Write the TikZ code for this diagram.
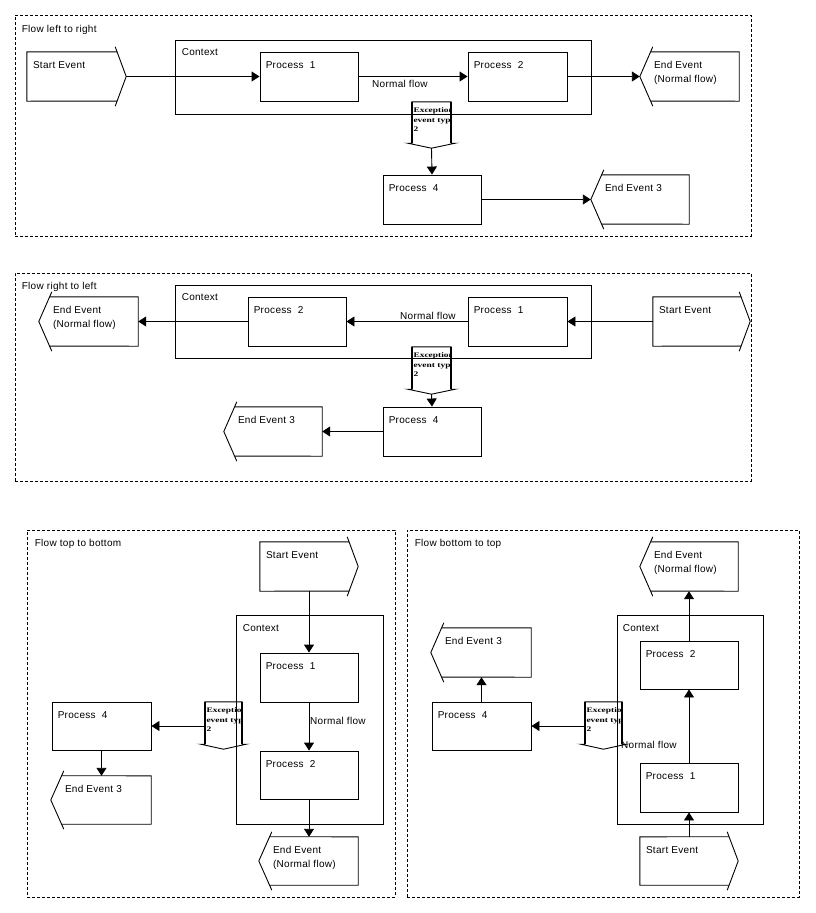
\documentclass[tikz,border=0pt]{standalone}
\usepackage{fontspec}
\usepackage{graphicx}
\setmainfont{Liberation Sans}[LetterSpace=3]
\newfontfamily\excfont{Liberation Serif}
\usetikzlibrary{arrows.meta,calc,fit}

\tikzset{
  ln/.style={line width=0.9pt, draw=black},
  panel/.style={draw=black, line width=0.8pt, dash pattern=on 3pt off 2pt},
  box/.style={draw=black, line width=0.9pt, inner sep=0pt},
  area/.style={inner sep=0pt, draw=none},
  lbl/.style={anchor=north west, inner sep=0pt, font=\fontsize{10}{13.3}\selectfont, align=left},
  flow/.style={line width=0.9pt, -{Triangle[length=8pt,width=10pt]}},
  exctext/.style={anchor=north west, inner sep=0pt, font=\excfont\bfseries\fontsize{7}{9.5}\selectfont, align=left},
}

\newcommand\xsc[1]{\scalebox{1.35}[1]{#1}}

% process / context box: name, x1, y1, x2, y2, text, dx, dy
\newcommand\procbox[8]{%
  \node[box, fit={(#2,#3) (#4,#5)}] (#1) {};
  \node[lbl] (#1lbl) at ($(#1.north west)+(#7,#8)$) {#6};
}

% start event (chevron on the right): name, x1, y1, x2(ear), y2, text
\newcommand\startevt[6]{%
  \node[area, fit={(#2,#3) (#4,#5)}] (#1) {};
  \coordinate (#1et) at ($(#1.north east)+(0,-5)$);
  \coordinate (#1eb) at ($(#1.south east)+(0,5)$);
  \coordinate (#1tip) at ($(#1.east)+(11,0)$);
  \draw[ln] (#1et) -- (#1tip) -- (#1eb);
  \draw[ln] ($(#1et)!0.17!(#1tip)$) -- (#1.north west) -- (#1.south west) -- ($(#1eb)!0.17!(#1tip)$);
  \node[lbl] (#1lbl) at ($(#1.north west)+(6,9.5)$) {#6};
}

% end event (chevron on the left): name, x1(ear), y1, x2, y2, text
\newcommand\finevt[6]{%
  \node[area, fit={(#2,#3) (#4,#5)}] (#1) {};
  \coordinate (#1et) at ($(#1.north west)+(0,-5)$);
  \coordinate (#1eb) at ($(#1.south west)+(0,5)$);
  \coordinate (#1tip) at ($(#1.west)+(-13,0)$);
  \draw[ln] (#1et) -- (#1tip) -- (#1eb);
  \draw[ln] ($(#1et)!0.17!(#1tip)$) -- (#1.north east) -- (#1.south east) -- ($(#1eb)!0.17!(#1tip)$);
  \node[lbl] (#1lbl) at ($(#1.north west)+(1,9.5)$) {#6};
}

% exception event: name, x1, y1, x2, y2
\newcommand\excevt[5]{%
  \node[area, fit={(#2,#3) (#4,#5)}] (#1) {};
  \coordinate (#1tip) at ($(#1.south)+(0,5)$);
  \draw[ln] (#1.south west) -- (#1.north west) -- (#1.north east) -- (#1.south east)
     -- ++(4,0) -- (#1tip) -- ($(#1.south west)+(-4,0)$) -- cycle;
  \draw[line width=1.6pt] (#1.south west) -- (#1.north west);
  \draw[line width=1.6pt] (#1.south east) -- (#1.north east);
  \begin{scope}
    \clip ($(#1.north west)+(0.8,0)$) rectangle ($(#1.south east)+(-0.8,0)$);
    \node[exctext] (#1lbl) at ($(#1.north west)+(1.5,6)$) {\xsc{Exception}\\\xsc{event type}\\\xsc{2}};
  \end{scope}
}

\begin{document}
\begin{tikzpicture}[x=1pt,y=-1pt]
\useasboundingbox[fill=white] (0,0) rectangle (815,913);

%================ Panel 1: left to right
\node[panel, area, draw, fit={(15,15) (751,236)}] (pan1) {};
\node[lbl] (pan1lbl) at ($(pan1.north west)+(7,10)$) {Flow left to right};
\procbox{c1}{175}{40}{591}{114}{Context}{7}{9}
\procbox{p1a}{260}{52}{358}{101}{Process\ \ 1}{6}{10}
\procbox{p2a}{468}{52}{567}{101}{Process\ \ 2}{6}{10}
\startevt{s1}{27}{52}{115}{101}{Start Event}
\finevt{e1a}{653}{52}{739}{101}{End Event\\(Normal flow)}
\excevt{x1}{412}{102}{451}{143}
\procbox{p4a}{383}{175}{481}{224}{Process\ \ 4}{6}{10}
\finevt{e3a}{604}{175}{689}{224}{End Event 3}
\draw[flow] (s1tip) -- (p1a.west);
\draw[flow] (p1a.east) -- (p2a.west);
\node[lbl] (nf1) at (372,80.5) {Normal flow};
\draw[flow] (p2a.east) -- (e1atip);
\draw[flow] (x1tip) -- (p4a.north);
\draw[flow] (p4a.east) -- (e3atip);

%================ Panel 2: right to left
\node[panel, area, draw, fit={(15,273) (751,481)}] (pan2) {};
\node[lbl] (pan2lbl) at ($(pan2.north west)+(7,9)$) {Flow right to left};
\procbox{c2}{175}{285}{591}{358}{Context}{7}{9}
\procbox{p2b}{248}{297}{346}{346}{Process\ \ 2}{6}{10}
\procbox{p1b}{468}{297}{567}{346}{Process\ \ 1}{6}{10}
\startevt{s2}{653}{297}{739}{346}{Start Event}
\finevt{e1b}{52}{297}{138}{346}{End Event\\(Normal flow)}
\excevt{x2}{412}{347}{451}{389}
\procbox{p4b}{383}{407}{481}{456}{Process\ \ 4}{6}{10}
\finevt{e3b}{237}{407}{322}{456}{End Event 3}
\draw[flow] (s2.west) -- (p1b.east);
\draw[flow] (p1b.west) -- (p2b.east);
\node[lbl] (nf2) at (400,312) {Normal flow};
\draw[flow] (p2b.west) -- (e1b.east);
\draw[flow] (x2tip) -- (p4b.north);
\draw[flow] (p4b.west) -- (e3b.east);

%================ Panel 3: top to bottom
\node[panel, area, draw, fit={(27,530) (395,897)}] (pan3) {};
\node[lbl] (pan3lbl) at ($(pan3.north west)+(8,9)$) {Flow top to bottom};
\startevt{s3}{260}{542}{347}{591}{Start Event}
\procbox{c3}{236}{615}{383}{824}{Context}{7}{10}
\procbox{p1c}{260}{653}{358}{702}{Process\ \ 1}{6}{10}
\procbox{p2c}{260}{751}{358}{799}{Process\ \ 2}{6}{10}
\finevt{e1c}{272}{837}{358}{885}{End Event\\(Normal flow)}
\excevt{x3}{205}{702}{242}{744}
\procbox{p4c}{52}{702}{151}{750}{Process\ \ 4}{6}{10}
\finevt{e3c}{64}{776}{151}{824}{End Event 3}
\draw[flow] (p1c |- s3.south) -- (p1c.north);
\draw[flow] (p1c.south) -- (p2c.north);
\node[lbl] (nf3) at (310,717) {Normal flow};
\draw[flow] (p2c.south) -- (p2c |- e1c.north);
\draw[flow] (x3.west |- p4c.east) -- (p4c.east);
\draw[flow] (p4c.south) -- (p4c |- e3c.north);

%================ Panel 4: bottom to top
\node[panel, area, draw, fit={(407,530) (799,897)}] (pan4) {};
\node[lbl] (pan4lbl) at ($(pan4.north west)+(8,9)$) {Flow bottom to top};
\finevt{e1d}{653}{542}{738}{591}{End Event\\(Normal flow)}
\procbox{c4}{617}{615}{763}{824}{Context}{6}{10}
\procbox{p2d}{640}{641}{738}{689}{Process\ \ 2}{6}{10}
\procbox{p1d}{640}{763}{738}{812}{Process\ \ 1}{6}{10}
\startevt{s4}{640}{837}{727}{885}{Start Event}
\excevt{x4}{585}{702}{622}{744}
\procbox{p4d}{432}{702}{531}{750}{Process\ \ 4}{6}{10}
\finevt{e3d}{444}{628}{531}{677}{End Event 3}
\draw[flow] (p1d |- s4.north) -- (p1d.south);
\draw[flow] (p1d.north) -- (p2d.south);
\node[lbl] (nf4) at (621,741) {Normal flow};
\draw[flow] (p2d.north) -- (p2d |- e1d.south);
\draw[flow] (x4.west |- p4d.east) -- (p4d.east);
\draw[flow] (p4d.north) -- (p4d |- e3d.south);
\end{tikzpicture}
\end{document}
